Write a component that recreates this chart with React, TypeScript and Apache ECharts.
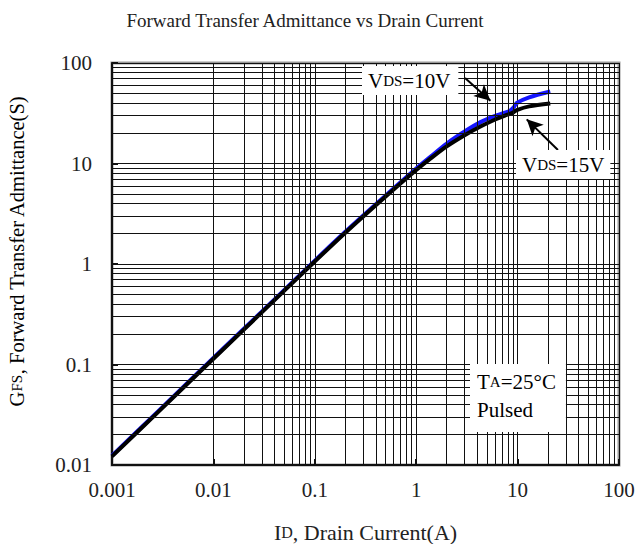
import React, { useEffect, useRef } from "react";
import * as echarts from "echarts";

const X_TICK_LABELS = ["0.001", "0.01", "0.1", "1", "10", "100"];
const Y_TICK_LABELS = ["0.01", "0.1", "1", "10", "100"];

// Drain current I_D (A)
const ID_VALUES = [0.001, 0.003, 0.01, 0.03, 0.1, 0.2, 0.5, 1, 1.4, 2, 3, 4.3, 6, 7.5, 8.5, 9.2, 9.8, 13, 21];
// Vds = 15V (black)
const GFS_15V = [0.0122, 0.0354, 0.114, 0.33, 1.06, 2.05, 4.7, 8.6, 11.3, 14.8, 19.1, 23.3, 27.4, 30, 31.3, 32.6, 34, 37, 39.5];
// Vds = 10V (blue)
const GFS_10V = [0.0124, 0.036, 0.116, 0.336, 1.08, 2.09, 4.8, 8.9, 11.8, 15.8, 20.8, 25.8, 29.8, 32, 33.8, 36.5, 40, 45.5, 52];

// minor grid values (2..9 per decade)
const X_MINOR: number[] = [];
for (let e = -3; e < 2; e++) for (let m = 2; m <= 9; m++) X_MINOR.push(+(m * Math.pow(10, e)).toPrecision(3));
const Y_MINOR: number[] = [];
for (let e = -2; e < 2; e++) for (let m = 2; m <= 9; m++) Y_MINOR.push(+(m * Math.pow(10, e)).toPrecision(3));

const FONT = "'Liberation Serif', 'DejaVu Serif', serif";

export default function App() {
  const ref = useRef<HTMLDivElement>(null);
  useEffect(() => {
    if (!ref.current) return;
    const chart = echarts.init(ref.current, undefined, { renderer: "svg" });
    const gridLineStyle = { color: "#111", width: 1, type: "solid" as const };
    const subRich = {
      n: { fontFamily: FONT, fontSize: 21, color: "#222" },
      s: { fontFamily: FONT, fontSize: 15, color: "#222" },
    };
    const xNameRich = {
      n: { fontFamily: FONT, fontSize: 22, color: "#222" },
      s: { fontFamily: FONT, fontSize: 16, color: "#222" },
    };
    const yNameRich = {
      n: { fontFamily: FONT, fontSize: 20.5, color: "#222" },
      s: { fontFamily: FONT, fontSize: 15, color: "#222" },
    };
    chart.setOption({
      animation: false,
      backgroundColor: "#fff",
      title: {
        text: "Forward Transfer Admittance vs Drain Current",
        left: 300,
        top: 6,
        textAlign: "center",
        textStyle: { fontFamily: FONT, fontSize: 19, fontWeight: "normal", color: "#222" },
      },
      grid: {
        left: 112,
        right: 21,
        top: 63,
        bottom: 79,
        show: true,
        borderColor: "#999",
        borderWidth: 3,
        containLabel: false,
        outerBoundsMode: "none",
      },
      xAxis: {
        type: "log",
        logBase: 10,
        min: 0.001,
        max: 100,
        name: "{n|I}{s|D}{n|, Drain Current(A)}",
        nameLocation: "middle",
        nameGap: 56,
        nameTextStyle: { rich: xNameRich },
        axisLine: { show: true, lineStyle: { color: "#111", width: 2 } },
        axisTick: { show: true, inside: true, length: 6, lineStyle: { color: "#111", width: 2 } },
        axisLabel: {
          margin: 14,
          fontFamily: FONT,
          fontSize: 21,
          color: "#222",
          formatter: (v: number) => X_TICK_LABELS[Math.round(Math.log10(v)) + 3] ?? "",
        },
        splitLine: { show: true, lineStyle: gridLineStyle },
      },
      yAxis: {
        type: "log",
        logBase: 10,
        min: 0.01,
        max: 100,
        axisLine: { show: true, lineStyle: { color: "#111", width: 2 } },
        axisTick: { show: true, inside: true, length: 6, lineStyle: { color: "#111", width: 2 } },
        axisLabel: {
          margin: 20,
          fontFamily: FONT,
          fontSize: 21,
          color: "#222",
          formatter: (v: number) => Y_TICK_LABELS[Math.round(Math.log10(v)) + 2] ?? "",
        },
        splitLine: { show: true, lineStyle: gridLineStyle },
      },
      series: [
        {
          name: "grid",
          type: "line",
          data: [],
          z: 1,
          silent: true,
          markLine: {
            silent: true,
            symbol: "none",
            label: { show: false },
            lineStyle: gridLineStyle,
            animation: false,
            data: [
              ...X_MINOR.map((v) => ({ xAxis: v })),
              ...Y_MINOR.map((v) => ({ yAxis: v })),
            ],
          },
        },
        {
          name: "VDS=10V",
          type: "line",
          z: 3,
          showSymbol: false,
          smooth: 0.3,
          lineStyle: { color: "#1414ff", width: 4 },
          data: ID_VALUES.map((x, i) => [x, GFS_10V[i]]),
        },
        {
          name: "VDS=15V",
          type: "line",
          z: 4,
          showSymbol: false,
          smooth: 0.3,
          lineStyle: { color: "#000", width: 4 },
          data: ID_VALUES.map((x, i) => [x, GFS_15V[i]]),
          markLine: {
            silent: true,
            symbol: ["none", "arrow"],
            symbolSize: [12, 16],
            label: { show: false },
            lineStyle: { color: "#000", width: 2, type: "solid" },
            data: [
              [{ coord: [3.03, 71] }, { coord: [5.4, 42] }],
              [{ coord: [25, 13.6] }, { coord: [12.3, 27.5] }],
            ],
          },
        },
      ],
      graphic: [
        {
          type: "text",
          z: 10,
          x: 17,
          y: 251,
          rotation: Math.PI / 2,
          style: {
            text: "{n|G}{s|FS}{n|, Forward Transfer Admittance(S)}",
            rich: yNameRich,
            align: "center",
            verticalAlign: "middle",
          },
        },
        {
          type: "text",
          z: 10,
          x: 362,
          y: 66,
          style: {
            text: "{n|V}{s|DS}{n|=10V}",
            rich: subRich,
            backgroundColor: "#fff",
            padding: [4, 8, 4, 6],
          },
        },
        {
          type: "text",
          z: 10,
          x: 516,
          y: 150,
          style: {
            text: "{n|V}{s|DS}{n|=15V}",
            rich: subRich,
            backgroundColor: "#fff",
            padding: [4, 6, 4, 6],
          },
        },
        {
          type: "text",
          z: 10,
          x: 470,
          y: 364,
          style: {
            text: "{n|T}{s|A}{n|=25°C}\n{n|Pulsed}",
            rich: {
              n: { fontFamily: FONT, fontSize: 21, color: "#222", lineHeight: 28 },
              s: { fontFamily: FONT, fontSize: 15, color: "#222", lineHeight: 28 },
            },
            backgroundColor: "#fff",
            padding: [4, 10, 8, 7],
          },
        },
      ],
    });
    return () => chart.dispose();
  }, []);
  return <div ref={ref} style={{ position: "fixed", left: 0, top: 0, width: 640, height: 544 }} />;
}
